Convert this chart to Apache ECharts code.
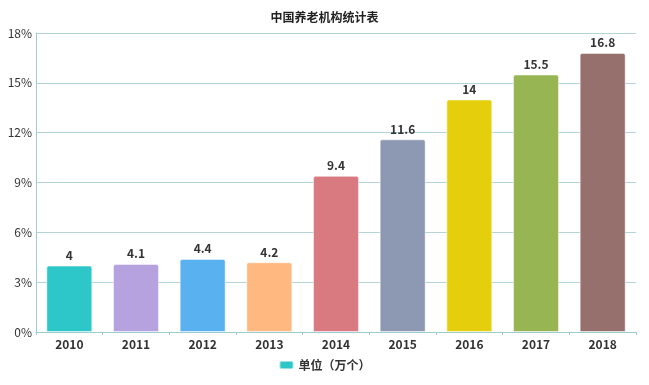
<!DOCTYPE html>
<html><head><meta charset="utf-8">
<script src="https://cdn.jsdelivr.net/npm/echarts@6/dist/echarts.min.js"></script>
<style>html,body{margin:0;padding:0;background:#fff}#c{width:649px;height:385px}</style>
</head><body><div id="c"></div>
<script>
const titleText = '中国养老机构统计表';
const seriesName = '单位（万个）';
const categories = ['2010','2011','2012','2013','2014','2015','2016','2017','2018'];
const values = [4, 4.1, 4.4, 4.2, 9.4, 11.6, 14, 15.5, 16.8];
const barColors = ['#2ec7c9','#b6a2de','#5ab1ef','#ffb980','#d87a80','#8d98b3','#e5cf0d','#97b552','#95706d'];
const yTicks = [0, 3, 6, 9, 12, 15, 18];

const chart = echarts.init(document.getElementById('c'));
const font = '"Noto Sans CJK SC", "Noto Sans", sans-serif';
chart.setOption({
  animation: false,
  textStyle: {fontFamily: font},
  title: {text: titleText, left: 'center', top: 6, textStyle: {fontSize: 12, fontWeight: 'bold', color: '#222', fontFamily: font}},
  legend: {bottom: 9, left: 'center', itemWidth: 14, itemHeight: 8, icon: 'roundRect', itemGap: 4,
    textStyle: {fontSize: 12, fontWeight: 'bold', color: '#333', fontFamily: font}, data: [seriesName]},
  grid: {left: 36, right: 13, top: 33, bottom: 53, containLabel: false},
  xAxis: {type: 'category', data: categories,
    axisLine: {lineStyle: {color: '#9ccbd0', width: 1}},
    axisTick: {show: true, length: 3, lineStyle: {color: '#9ccbd0'}},
    axisLabel: {color: '#333', fontSize: 12, fontWeight: 'bold', margin: 6, fontFamily: font}},
  yAxis: {type: 'value', min: yTicks[0], max: yTicks[yTicks.length-1], interval: 3,
    axisLine: {show: true, lineStyle: {color: '#9ccbd0', width: 1}},
    axisTick: {show: false},
    splitLine: {lineStyle: {color: '#b4d4d7', width: 1}},
    axisLabel: {formatter: '{value}%', color: '#333', fontSize: 12, margin: 4, fontFamily: font}},
  series: [{
    name: seriesName, type: 'bar', barWidth: 46,
    data: values.map((v, i) => ({value: v, itemStyle: {color: barColors[i]}})),
    itemStyle: {color: barColors[0], borderRadius: [2, 2, 0, 0], borderColor: 'rgba(255,255,255,0.5)', borderWidth: 1},
    label: {show: true, position: 'top', color: '#333', fontSize: 12, fontWeight: 'bold', distance: 4, fontFamily: font}
  }]
});
</script></body></html>
